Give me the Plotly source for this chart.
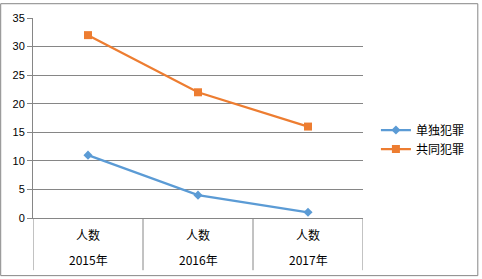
import plotly.graph_objects as go

categories = ["2015年", "2016年", "2017年"]
sub_label = "人数"
series_names = ["单独犯罪", "共同犯罪"]
solo = [11, 4, 1]
joint = [32, 22, 16]
y_ticks = [0, 5, 10, 15, 20, 25, 30, 35]

W, H = 482, 279
L, R, T, B = 33, 365, 15, 218
pw, ph = R - L, B - T

def px(x):
    return (x - L) / pw

def py(y):
    return (B - y) / ph

GRAY = "#868686"
xs = list(range(len(categories)))

fig = go.Figure()
fig.add_trace(go.Scatter(x=xs, y=solo, name=series_names[0], mode="lines+markers",
                         line=dict(color="#5B9BD5", width=2.25),
                         marker=dict(symbol="diamond", size=7, color="#5B9BD5")))
fig.add_trace(go.Scatter(x=xs, y=joint, name=series_names[1], mode="lines+markers",
                         line=dict(color="#ED7D31", width=2.25),
                         marker=dict(symbol="square", size=8, color="#ED7D31")))

shapes = []
for i in range(len(categories) + 1):
    shapes.append(dict(type="line", xref="x", yref="paper", x0=i - 0.5, x1=i - 0.5,
                       y0=0, y1=py(271), line=dict(color=GRAY, width=1)))
shapes.append(dict(type="rect", xref="paper", yref="paper",
                   x0=px(0.5), x1=px(480.5), y0=py(276.5), y1=py(0.5),
                   line=dict(color=GRAY, width=1)))

annotations = []
for i, c in enumerate(categories):
    annotations.append(dict(x=i, y=py(235), xref="x", yref="paper", text=sub_label,
                            showarrow=False, yanchor="middle", xanchor="center",
                            font=dict(size=12, color="#000000", family="Noto Sans CJK SC")))
    annotations.append(dict(x=i, y=py(260), xref="x", yref="paper", text=c,
                            showarrow=False, yanchor="middle", xanchor="center",
                            font=dict(size=12, color="#000000", family="Noto Sans CJK SC")))

fig.update_layout(
    width=W, height=H,
    margin=dict(l=L, r=W - R, t=T, b=H - B),
    paper_bgcolor="white", plot_bgcolor="white",
    font=dict(family="Liberation Sans, Noto Sans CJK SC", size=11, color="#000000"),
    xaxis=dict(range=[-0.5, 2.5], showticklabels=False, showgrid=False, zeroline=False,
               showline=True, linecolor=GRAY, linewidth=1, ticks=""),
    yaxis=dict(range=[0, 35], tickvals=y_ticks, showgrid=True, gridcolor=GRAY, gridwidth=1,
               zeroline=False, showline=True, linecolor=GRAY, linewidth=1,
               ticks="outside", ticklen=5, tickcolor=GRAY,
               tickfont=dict(size=11, family="Liberation Sans")),
    legend=dict(x=px(378), y=py(114), xanchor="left", yanchor="top",
                font=dict(size=12, family="Noto Sans CJK SC"),
                itemwidth=30, tracegroupgap=0, bgcolor="rgba(0,0,0,0)"),
    shapes=shapes, annotations=annotations,
)

fig.write_html("out.html")
